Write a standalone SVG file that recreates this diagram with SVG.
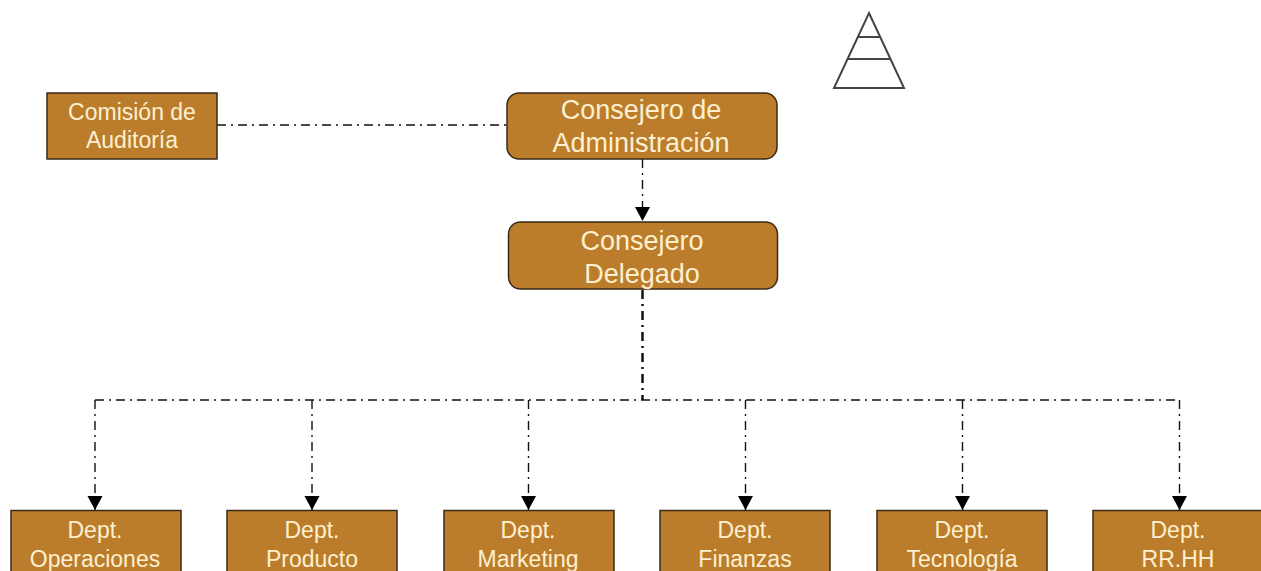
<svg xmlns="http://www.w3.org/2000/svg" width="1261" height="571" viewBox="0 0 1261 571">
<style>
.n{fill:#bb7d2b;stroke:#3a2a18;stroke-width:1.5}
text{font-family:"Liberation Sans",Arial,sans-serif;fill:#fdf0d0;text-anchor:middle}
.s{font-size:23px}
.m{font-size:27px}
.c{fill:none;stroke:#111;stroke-width:1.4;stroke-dasharray:9 5 2 5}
.p{fill:none;stroke:#444;stroke-width:2}
</style>
<defs><marker id="a" markerUnits="userSpaceOnUse" markerWidth="16" markerHeight="16" refX="14" refY="8" orient="auto"><path d="M0 0.500L14 8L0 15.500Z" fill="#000"/></marker></defs>
<rect width="1261" height="571" fill="#fff"/>
<g id="connectors">
<path class="c" d="M217 125H506"/>
<path class="c" d="M642.500 159V221" marker-end="url(#a)"/>
<path class="c" d="M642.500 290V400" style="stroke-width:2.500"/>
<path class="c" d="M95 400H1179.500"/>
<path class="c" d="M95 400V510" marker-end="url(#a)"/>
<path class="c" d="M312 400V510" marker-end="url(#a)"/>
<path class="c" d="M528.500 400V510" marker-end="url(#a)"/>
<path class="c" d="M745.500 400V510" marker-end="url(#a)"/>
<path class="c" d="M962.500 400V510" marker-end="url(#a)"/>
<path class="c" d="M1179.500 400V510" marker-end="url(#a)"/>
</g>
<g id="pyramid">
<path class="p" d="M869 13L904 88H834Z"/><path class="p" d="M858 37H880M848 59H890"/>
</g>
<g id="auditoria"><rect class="n" x="47" y="93" width="170" height="66"/><text class="s" x="132" y="120">Comisión de</text><text class="s" x="132" y="148">Auditoría</text></g>
<g id="administracion"><rect class="n" x="507" y="93" width="270" height="66" rx="12"/><text class="m" x="641" y="119">Consejero de</text><text class="m" x="641" y="152">Administración</text></g>
<g id="delegado"><rect class="n" x="508.500" y="222" width="269" height="67" rx="12"/><text class="m" x="642" y="250">Consejero</text><text class="m" x="642" y="283">Delegado</text></g>
<g id="operaciones"><rect class="n" x="11" y="510.500" width="170" height="70"/><text class="s" x="95" y="538">Dept.</text><text class="s" x="95" y="567">Operaciones</text></g>
<g id="producto"><rect class="n" x="227" y="510.500" width="170" height="70"/><text class="s" x="312" y="538">Dept.</text><text class="s" x="312" y="567">Producto</text></g>
<g id="marketing"><rect class="n" x="444" y="510.500" width="170" height="70"/><text class="s" x="528" y="538">Dept.</text><text class="s" x="528" y="567">Marketing</text></g>
<g id="finanzas"><rect class="n" x="660" y="510.500" width="170" height="70"/><text class="s" x="745" y="538">Dept.</text><text class="s" x="745" y="567">Finanzas</text></g>
<g id="tecnologia"><rect class="n" x="877" y="510.500" width="170" height="70"/><text class="s" x="962" y="538">Dept.</text><text class="s" x="962" y="567">Tecnología</text></g>
<g id="rrhh"><rect class="n" x="1093" y="510.500" width="170" height="70"/><text class="s" x="1178" y="538">Dept.</text><text class="s" x="1178" y="567">RR.HH</text></g>
</svg>
